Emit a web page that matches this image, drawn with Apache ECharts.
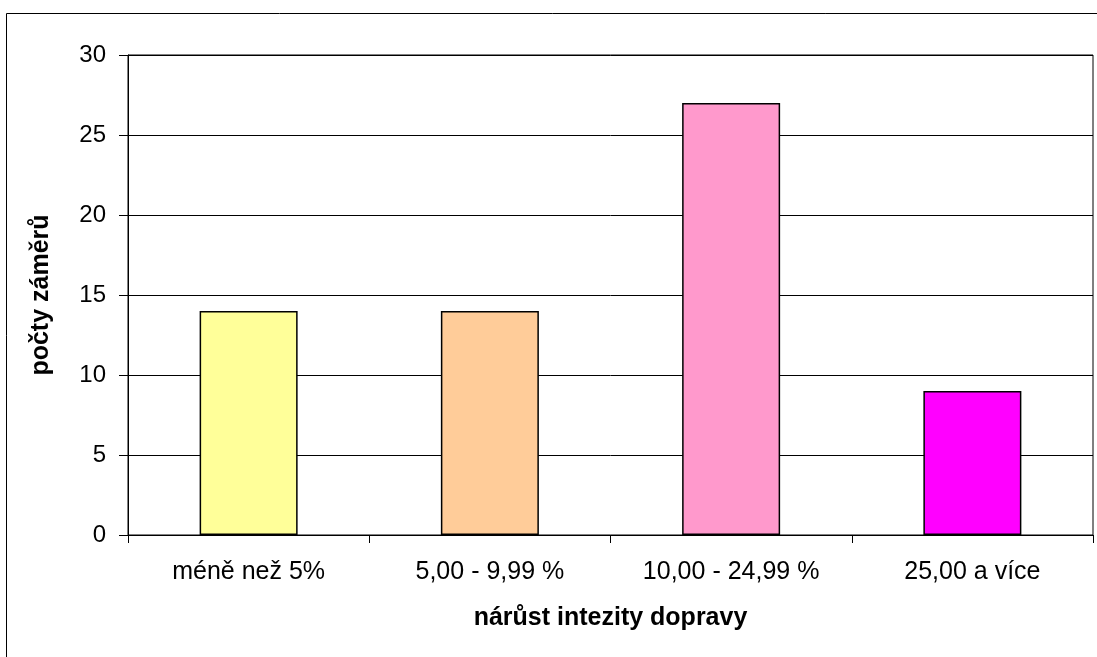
<!DOCTYPE html>
<html>
<head>
<meta charset="utf-8">
<script src="https://cdn.jsdelivr.net/npm/echarts@6/dist/echarts.min.js"></script>
<style>
html,body{margin:0;padding:0;background:#fff;}
#c{width:1097px;height:657px;}
</style>
</head>
<body>
<div id="c"></div>
<script>
const categories = ['méně než 5%', '5,00 - 9,99 %', '10,00 - 24,99 %', '25,00 a více'];
const values = [14, 14, 27, 9];
const barColors = ['#FFFF99', '#FFCC99', '#FF99CC', '#FF00FF'];
const yAxisTitle = 'počty záměrů';
const xAxisTitle = 'nárůst intezity dopravy';

const chart = echarts.init(document.getElementById('c'), null, {renderer: 'canvas'});
const font = '"Liberation Sans", Arial, sans-serif';
chart.setOption({
  animation: false,
  backgroundColor: '#fff',
  graphic: [{
    type: 'rect',
    shape: {x: 6.5, y: 13.5, width: 2000, height: 2000},
    style: {fill: 'none', stroke: '#000', lineWidth: 1},
    silent: true, z: 0
  }],
  grid: {left: 128, top: 55, right: 4, bottom: 122, show: true, borderColor: '#000', borderWidth: 1, backgroundColor: 'transparent'},
  xAxis: {
    type: 'category',
    data: categories,
    axisLine: {lineStyle: {color: '#000', width: 1}},
    axisTick: {show: true, length: 8, lineStyle: {color: '#000'}},
    axisLabel: {color: '#000', fontFamily: font, fontSize: 25, margin: 25},
    name: xAxisTitle,
    nameLocation: 'middle',
    nameGap: 71,
    nameTextStyle: {color: '#000', fontFamily: font, fontSize: 25, fontWeight: 'bold'}
  },
  yAxis: {
    type: 'value',
    min: 0, max: 30, interval: 5,
    axisLine: {show: true, lineStyle: {color: '#000', width: 1}},
    axisTick: {show: true, length: 9, lineStyle: {color: '#000'}},
    axisLabel: {color: '#000', fontFamily: font, fontSize: 24, margin: 22},
    splitLine: {show: true, lineStyle: {color: '#000', width: 1}},
    name: yAxisTitle,
    nameLocation: 'middle',
    nameGap: 74,
    nameRotate: 90,
    nameTextStyle: {color: '#000', fontFamily: font, fontSize: 25, fontWeight: 'bold'}
  },
  series: [{
    type: 'bar',
    barWidth: 98,
    data: values.map((v, i) => ({value: v, itemStyle: {color: barColors[i]}})),
    itemStyle: {borderColor: '#000', borderWidth: 1.5}
  }]
});
</script>
</body>
</html>
